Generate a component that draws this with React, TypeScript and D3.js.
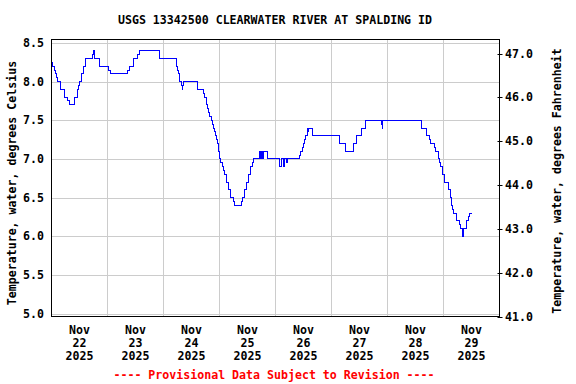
import React from "react";
import * as d3 from "d3";

const title = "USGS 13342500 CLEARWATER RIVER AT SPALDING ID";
const leftLabel = "Temperature, water, degrees Celsius";
const rightLabel = "Temperature, water, degrees Fahrenheit";
const footer = "---- Provisional Data Subject to Revision ----";

// hours since 2025-11-22 00:00
const hours = [
  0.14, 0.57, 1.29, 1.86, 2.29, 2.71, 4.0, 5.71, 7.0, 7.57, 10.0, 11.29, 11.57, 12.14, 13.0, 13.86, 14.71,
  17.71, 18.0, 18.29, 18.43, 20.57, 24.43, 25.14, 32.71, 33.29, 35.29, 37.0, 37.57, 46.14,
  53.71, 54.14, 54.57, 55.0, 55.71, 56.14, 56.29, 56.71, 62.71, 65.0, 65.43, 66.57, 66.86, 67.29, 67.86,
  68.43, 68.86, 69.29, 69.71, 70.14, 70.57, 71.0, 71.43, 71.86, 72.14, 72.57, 73.14, 73.57, 74.0, 74.86,
  75.71, 76.57, 77.86, 78.43, 81.57, 82.0, 82.71, 83.57, 84.43, 85.29, 86.0, 86.43,
  89.14, 89.4, 89.6, 89.85, 90.1, 90.3, 90.5, 90.71, 92.71, 97.71, 98.57, 99.57, 100.0, 100.57, 101.0,
  106.14, 106.71, 107.43, 107.86, 108.43, 108.86, 109.57, 109.9, 110.14, 112.0, 123.57, 126.0, 129.57,
  130.71, 132.71, 134.43, 141.5, 141.75, 142.0, 158.71, 160.71, 162.14, 162.43, 164.14, 164.71, 165.86,
  166.29, 166.71, 167.43, 168.57, 170.0, 170.86, 171.57, 172.0, 172.43, 173.43, 174.71, 175.43, 176.29,
  176.57, 178.0, 178.57, 179.14, 180.29,
];
const tempC = [
  8.25, 8.2, 8.15, 8.1, 8.05, 8.0, 7.9, 7.8, 7.75, 7.7, 7.8, 7.9, 7.95, 8.0, 8.1, 8.2, 8.3,
  8.35, 8.4, 8.35, 8.3, 8.2, 8.15, 8.1, 8.15, 8.2, 8.3, 8.35, 8.4, 8.3,
  8.2, 8.15, 8.1, 8.0, 7.95, 7.9, 7.95, 8.0, 7.9, 7.85, 7.8, 7.7, 7.65, 7.6, 7.55,
  7.5, 7.45, 7.4, 7.35, 7.3, 7.25, 7.2, 7.1, 7.05, 7.0, 6.95, 6.9, 6.85, 6.8, 6.7,
  6.6, 6.5, 6.45, 6.4, 6.45, 6.5, 6.6, 6.7, 6.8, 6.9, 6.95, 7.0,
  7.1, 7.0, 7.1, 7.0, 7.05, 7.1, 7.0, 7.1, 7.0, 6.9, 7.0, 6.9, 7.0, 6.95, 7.0,
  7.05, 7.1, 7.15, 7.2, 7.25, 7.3, 7.4, 7.35, 7.4, 7.3, 7.2, 7.1, 7.2,
  7.3, 7.4, 7.5, 7.45, 7.4, 7.5, 7.4, 7.3, 7.25, 7.2, 7.15, 7.1, 7.0,
  6.95, 6.9, 6.8, 6.7, 6.6, 6.5, 6.4, 6.35, 6.3, 6.2, 6.15, 6.1, 6.0,
  6.1, 6.2, 6.25, 6.3, 6.3,
];

const dayTicks = ["22", "23", "24", "25", "26", "27", "28", "29"];
const cTicks = [5.0, 5.5, 6.0, 6.5, 7.0, 7.5, 8.0, 8.5];
const fTicks = [41, 42, 43, 44, 45, 46, 47];

const start = new Date(2025, 10, 22);
const end = new Date(2025, 10, 30);

export default function App() {
  const L = 51.5, R = 499.5, T = 39.5, B = 316.5;
  const x = d3.scaleTime().domain([start, end]).range([L, R]);
  const yC = d3.scaleLinear().domain([5, 8.5]).range([313.5, 43]);
  const yF = d3.scaleLinear().domain([41, 47]).range([316.5, 53.5]);
  const data = hours.map((h, i) => ({ t: new Date(start.getTime() + h * 3600e3), v: tempC[i] }));
  const line = d3
    .line<{ t: Date; v: number }>()
    .x((d) => x(d.t))
    .y((d) => yC(d.v))
    .curve(d3.curveStepAfter);
  const days = d3.timeDay.range(start, end);
  const font = { fontFamily: "'DejaVu Sans Mono', monospace", fontWeight: "bold" as const, fontSize: "11.6px" };
  return (
    <svg width={576} height={384} style={{ position: "absolute", left: 0, top: 0, background: "#fff" }}>
      <rect x={0} y={0} width={576} height={384} fill="#fff" />
      <text x={275} y={24} textAnchor="middle" {...font}>{title}</text>
      {cTicks.map((c) => (
        <line key={"gc" + c} x1={L} x2={R} y1={Math.round(yC(c)) + 0.5} y2={Math.round(yC(c)) + 0.5} stroke="#cccccc" strokeWidth={1} />
      ))}
      {days.slice(1).map((d, i) => (
        <line key={"gd" + i} x1={x(d)} x2={x(d)} y1={T} y2={B} stroke="#cccccc" strokeWidth={1} />
      ))}
      <path d={line(data) || ""} fill="none" stroke="#0000ff" strokeWidth={1} shapeRendering="crispEdges" />
      <rect x={L} y={T} width={R - L} height={B - T} fill="none" stroke="#000" strokeWidth={1} />
      {cTicks.map((c) => (
        <text key={"lc" + c} x={44} y={Math.round(yC(c)) + 4} textAnchor="end" {...font}>{c.toFixed(1)}</text>
      ))}
      {fTicks.map((f) => (
        <g key={"rf" + f}>
          <line x1={R - 2} x2={R + 3} y1={Math.round(yF(f)) + 0.5} y2={Math.round(yF(f)) + 0.5} stroke="#000" />
          <text x={505} y={Math.round(yF(f)) + 4} {...font}>{f.toFixed(1)}</text>
        </g>
      ))}
      {days.map((d, i) => {
        const cx = x(d3.timeHour.offset(d, 12));
        return (
          <g key={"xl" + i}>
            <text x={cx} y={334} textAnchor="middle" {...font}>Nov</text>
            <text x={cx} y={347} textAnchor="middle" {...font}>{dayTicks[i]}</text>
            <text x={cx} y={360} textAnchor="middle" {...font}>2025</text>
          </g>
        );
      })}
      <text x={274} y={379} textAnchor="middle" fill="#ff0000" {...font}>{footer}</text>
      <text transform="translate(15.5,183) rotate(-90)" textAnchor="middle" {...font}>{leftLabel}</text>
      <text transform="translate(561,181) rotate(-90)" textAnchor="middle" {...font}>{rightLabel}</text>
    </svg>
  );
}
